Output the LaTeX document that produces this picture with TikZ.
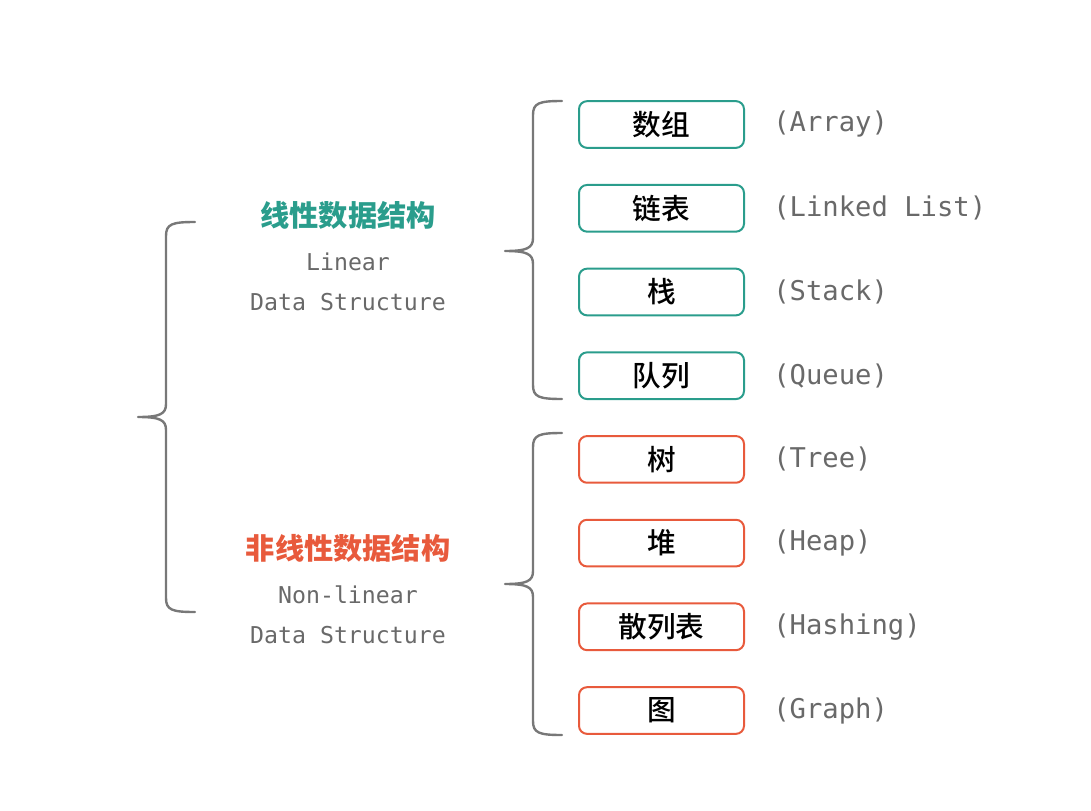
\documentclass[tikz,border=0pt]{standalone}
\usepackage{fontspec}
\newfontfamily\cjk{Noto Sans CJK SC}
\newfontfamily\cjkm{Noto Sans CJK SC Medium}
\newfontfamily\monof{DejaVu Sans Mono}
\definecolor{teal1}{RGB}{42,157,140}
\definecolor{red1}{RGB}{232,90,60}
\definecolor{brgray}{RGB}{120,120,120}
\definecolor{txgray}{RGB}{105,105,105}
\begin{document}
\begin{tikzpicture}[x=0.75pt,y=-0.75pt,
  item/.style={draw, line width=1.5pt, rounded corners=6pt, minimum width=123.75pt, minimum height=35pt, inner sep=0pt, font=\cjkm\fontsize{21.5}{21.5}\selectfont, text=black},
  lin/.style={item, draw=teal1},
  nonlin/.style={item, draw=red1},
  eng/.style={anchor=west, text=txgray, font=\monof\fontsize{20.4}{21}\selectfont, inner sep=0pt},
  sub/.style={text=txgray, font=\monof\fontsize{17.4}{18}\selectfont, inner sep=0pt},
  title/.style={font=\cjk\bfseries\fontsize{21.9}{22}\selectfont, inner sep=0pt},
  brace/.style={draw=brgray, line width=1.8pt, line cap=round, line join=round}]
\useasboundingbox (0,0) rectangle (1091,810);

% boxes
\node[lin] (b1) at (661.5,124.5) {数组};
\node[lin] (b2) at (661.5,208.3) {链表};
\node[lin] (b3) at (661.5,292) {栈};
\node[lin] (b4) at (661.5,375.7) {队列};
\node[nonlin] (b5) at (661.5,459.4) {树};
\node[nonlin] (b6) at (661.5,543.1) {堆};
\node[nonlin] (b7) at (661.5,626.8) {散列表};
\node[nonlin] (b8) at (661.5,710.5) {图};

% english labels
\node[eng] (e1) at (773,124.5) {(Array)};
\node[eng] (e2) at (773,208.3) {(Linked List)};
\node[eng] (e3) at (773,292) {(Stack)};
\node[eng] (e4) at (773,375.7) {(Queue)};
\node[eng] (e5) at (773,459.4) {(Tree)};
\node[eng] (e6) at (773,543.1) {(Heap)};
\node[eng] (e7) at (773,626.8) {(Hashing)};
\node[eng] (e8) at (773,710.5) {(Graph)};

% group titles
\node[title, text=teal1] (t1) at (348,215) {线性数据结构};
\node[sub] (s1a) at (348,262) {Linear};
\node[sub] (s1b) at (348,302) {Data Structure};
\node[title, text=red1] (t2) at (348,548) {非线性数据结构};
\node[sub] (s2a) at (348,595) {Non-linear};
\node[sub] (s2b) at (348,635) {Data Structure};

% big brace
\coordinate (B0t) at (195,222);
\coordinate (B0m) at (138,417);
\coordinate (B0b) at (195,612);
\draw[brace] (B0t) .. controls (172,222) and (166,224) .. (166,236) -- (166,404)
  .. controls (166,414) and (160,417) .. (B0m)
  .. controls (160,417) and (166,420) .. (166,430) -- (166,598)
  .. controls (166,610) and (172,612) .. (B0b);

% upper brace
\coordinate (B1t) at (562,101);
\coordinate (B1m) at (505,251);
\coordinate (B1b) at (562,399);
\draw[brace] (B1t) .. controls (539,101) and (533,103) .. (533,115) -- (533,238)
  .. controls (533,248) and (527,251) .. (B1m)
  .. controls (527,251) and (533,254) .. (533,264) -- (533,385)
  .. controls (533,397) and (539,399) .. (B1b);

% lower brace
\coordinate (B2t) at (562,433);
\coordinate (B2m) at (505,584);
\coordinate (B2b) at (562,735);
\draw[brace] (B2t) .. controls (539,433) and (533,435) .. (533,447) -- (533,571)
  .. controls (533,581) and (527,584) .. (B2m)
  .. controls (527,584) and (533,587) .. (533,597) -- (533,721)
  .. controls (533,733) and (539,735) .. (B2b);
\end{tikzpicture}
\end{document}
